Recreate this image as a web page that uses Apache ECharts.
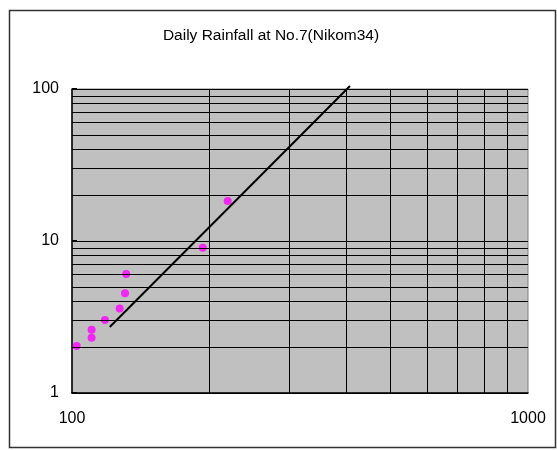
<!DOCTYPE html>
<html>
<head>
<meta charset="utf-8">
<script src="https://cdn.jsdelivr.net/npm/echarts@6/dist/echarts.min.js"></script>
<style>
  html, body { margin: 0; padding: 0; background: #fff; }
  #chart { width: 557px; height: 450px; }
</style>
</head>
<body>
<div id="chart"></div>
<script>
// Observed daily rainfall points (return period vs. rainfall)
const obsX = [102.4, 110.4, 110.4, 118.1, 127.2, 130.7, 131.5, 193.5, 219.5];
const obsY = [2.04, 2.31, 2.61, 3.02, 3.60, 4.53, 6.07, 9.03, 18.3];

// Fitted line end points
const fitX = [121, 407];
const fitY = [2.72, 104.6];

// Intermediate grid values inside each decade
const xGridValues = [200, 300, 400, 500, 600, 700, 800, 900];
const yGridValues = [2, 3, 4, 5, 6, 7, 8, 9, 20, 30, 40, 50, 60, 70, 80, 90];

const titleText = 'Daily Rainfall at No.7(Nikom34)';

const chart = echarts.init(document.getElementById('chart'), null, { renderer: 'canvas' });

const gridLineStyle = { color: '#000', width: 1, type: 'solid' };

const markLines = []
  .concat(xGridValues.map(v => ({ xAxis: v })))
  .concat(yGridValues.map(v => ({ yAxis: v })));

chart.setOption({
  animation: false,
  backgroundColor: '#fff',
  textStyle: { fontFamily: 'Liberation Sans, Arial, sans-serif' },
  title: {
    text: titleText,
    left: 266,
    top: 23,
    textAlign: 'center',
    textStyle: { fontSize: 15.5, fontWeight: 'normal', color: '#000', fontFamily: 'Liberation Sans, Arial, sans-serif' }
  },
  graphic: [{
    type: 'rect',
    shape: { x: 9.5, y: 10.5, width: 546, height: 437 },
    style: { fill: 'none', stroke: '#333', lineWidth: 1.5 },
    silent: true,
    z: 100
  }],
  grid: {
    left: 72, top: 89, width: 456, height: 304,
    show: true,
    backgroundColor: '#c0c0c0',
    borderColor: '#808080',
    borderWidth: 1
  },
  xAxis: {
    type: 'log',
    logBase: 10,
    min: 100,
    max: 1000,
    axisLine: { show: true, lineStyle: { color: '#000', width: 1.5 } },
    axisTick: { show: false },
    splitLine: { show: false },
    axisLabel: { color: '#000', fontSize: 16, margin: 18, formatter: v => String(Math.round(v)) }
  },
  yAxis: {
    type: 'log',
    logBase: 10,
    min: 1,
    max: 100,
    axisLine: { show: true, lineStyle: { color: '#000', width: 1.5 } },
    axisTick: { show: true, inside: true, length: 5, lineStyle: { color: '#000', width: 2 } },
    splitLine: { show: true, lineStyle: { color: '#000', width: 1 } },
    axisLabel: { color: '#000', fontSize: 16, margin: 13, formatter: v => String(Math.round(v)) }
  },
  series: [
    {
      type: 'scatter',
      name: 'grid',
      data: [],
      silent: true,
      markLine: {
        silent: true,
        symbol: ['none', 'none'],
        label: { show: false },
        lineStyle: gridLineStyle,
        animation: false,
        data: markLines
      }
    },
    {
      type: 'line',
      name: 'fit',
      data: fitX.map((x, i) => [x, fitY[i]]),
      showSymbol: false,
      symbol: 'none',
      clip: false,
      lineStyle: { color: '#000', width: 2 },
      z: 3
    },
    {
      type: 'scatter',
      name: 'observed',
      data: obsX.map((x, i) => [x, obsY[i]]),
      symbol: 'circle',
      symbolSize: 8,
      itemStyle: { color: '#ff00ff' },
      z: 4
    }
  ]
});
</script>
</body>
</html>
